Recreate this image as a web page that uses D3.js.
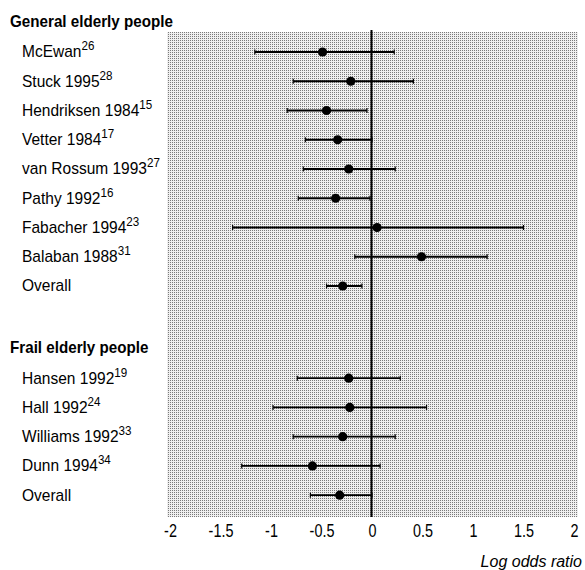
<!DOCTYPE html>
<html>
<head>
<meta charset="utf-8">
<script src="https://cdn.jsdelivr.net/npm/d3@7"></script>
<style>
  html, body { margin: 0; padding: 0; background: #fff; }
  svg { display: block; }
  text { font-family: "Liberation Sans", Arial, sans-serif; fill: #000; }
</style>
</head>
<body>
<svg id="chart" width="585" height="570"></svg>
<script>
// ---- Data ----
const groupNames = ["General elderly people", "Frail elderly people"];

const generalStudies = ["McEwan", "Stuck 1995", "Hendriksen 1984", "Vetter 1984", "van Rossum 1993", "Pathy 1992", "Fabacher 1994", "Balaban 1988", "Overall"];
const generalRefs    = ["26", "28", "15", "17", "27", "16", "23", "31", ""];
const generalEst     = [-0.49, -0.21, -0.45, -0.34, -0.23, -0.36, 0.05, 0.49, -0.29];
const generalLo      = [-1.16, -0.78, -0.84, -0.66, -0.68, -0.73, -1.38, -0.17, -0.45];
const generalHi      = [0.22, 0.41, -0.05, 0.00, 0.23, -0.02, 1.50, 1.14, -0.10];

const frailStudies = ["Hansen 1992", "Hall 1992", "Williams 1992", "Dunn 1994", "Overall"];
const frailRefs    = ["19", "24", "33", "34", ""];
const frailEst     = [-0.23, -0.22, -0.29, -0.59, -0.32];
const frailLo      = [-0.74, -0.98, -0.78, -1.29, -0.61];
const frailHi      = [0.28, 0.54, 0.23, 0.08, 0.00];

const xTicks = [-2, -1.5, -1, -0.5, 0, 0.5, 1, 1.5, 2];
const xTickLabels = ["-2", "-1.5", "-1", "-0.5", "0", "0.5", "1", "1.5", "2"];
const xTitle = "Log odds ratio";

// ---- Layout ----
const svg = d3.select("#chart");
const plot = { left: 167, right: 578, top: 32, bottom: 517 };

const x = d3.scaleLinear().domain([-2, 2]).range([170, 574]);
// rows positioned by index; frail group begins after a gap
const frailStart = 11.15;
const y = d3.scaleLinear().domain([0, 1]).range([52, 81.25]);

const groups = [
  { name: groupNames[0], start: 0, studies: generalStudies, refs: generalRefs, est: generalEst, lo: generalLo, hi: generalHi },
  { name: groupNames[1], start: frailStart, studies: frailStudies, refs: frailRefs, est: frailEst, lo: frailLo, hi: frailHi }
];

const rows = [];
groups.forEach(g => {
  g.studies.forEach((s, i) => {
    rows.push({ label: s, ref: g.refs[i], est: g.est[i], lo: g.lo[i], hi: g.hi[i], idx: g.start + i });
  });
});

// ---- Background halftone ----
const defs = svg.append("defs");
const pat = defs.append("pattern")
  .attr("id", "dots").attr("patternUnits", "userSpaceOnUse")
  .attr("width", 2).attr("height", 2);
pat.append("rect").attr("width", 2).attr("height", 2).attr("fill", "#efefef");
pat.append("rect").attr("width", 1).attr("height", 1).attr("fill", "#7a7a7a");

svg.append("rect")
  .attr("x", plot.left).attr("y", plot.top)
  .attr("width", plot.right - plot.left).attr("height", plot.bottom - plot.top)
  .attr("fill", "url(#dots)");

// ---- Zero line ----
svg.append("line")
  .attr("x1", x(0) - 0.5).attr("x2", x(0) - 0.5)
  .attr("y1", plot.top - 2).attr("y2", plot.bottom)
  .attr("stroke", "#000").attr("stroke-width", 2);

// ---- Error bars ----
const bars = svg.append("g").selectAll("g").data(rows).join("g");
bars.append("line")
  .attr("x1", d => x(d.lo)).attr("x2", d => x(d.hi))
  .attr("y1", d => y(d.idx)).attr("y2", d => y(d.idx))
  .attr("stroke", "#000").attr("stroke-width", 1.8);
bars.append("line")
  .attr("x1", d => x(d.lo)).attr("x2", d => x(d.lo))
  .attr("y1", d => y(d.idx) - 2.5).attr("y2", d => y(d.idx) + 2.5)
  .attr("stroke", "#000").attr("stroke-width", 1.2);
bars.append("line")
  .attr("x1", d => x(d.hi)).attr("x2", d => x(d.hi))
  .attr("y1", d => y(d.idx) - 2.5).attr("y2", d => y(d.idx) + 2.5)
  .attr("stroke", "#000").attr("stroke-width", 1.2);
bars.append("circle")
  .attr("cx", d => x(d.est)).attr("cy", d => y(d.idx))
  .attr("r", 4.6).attr("fill", "#000");

// ---- Row labels ----
const labelG = svg.append("g").attr("transform", "translate(22,0) scale(0.97,1)");
const labels = labelG.selectAll("text").data(rows).join("text")
  .attr("x", 0).attr("y", d => y(d.idx) + 5.5)
  .attr("font-size", 16);
labels.append("tspan").text(d => d.label);
labels.append("tspan")
  .attr("dy", -7).attr("font-size", 12)
  .text(d => d.ref);

// ---- Group headers ----
svg.append("g").attr("transform", "translate(10,0) scale(0.95,1)")
  .selectAll("text").data(groups).join("text")
  .attr("x", 0).attr("y", g => y(g.start - 1.07) + 6)
  .attr("font-size", 16).attr("font-weight", "bold")
  .text(g => g.name);

// ---- X axis ----
const axis = d3.axisBottom(x).tickValues(xTicks)
  .tickFormat((d, i) => xTickLabels[i]).tickSize(0).tickPadding(0);
const ax = svg.append("g").attr("transform", `translate(0, 524)`).call(axis);
ax.select(".domain").remove();
ax.selectAll("text")
  .attr("dy", "0.71em").attr("y", 0)
  .attr("transform", "scale(0.8,1)")
  .attr("font-size", 18)
  .attr("font-family", "'Liberation Sans', Arial, sans-serif")
  .attr("fill", "#000");

svg.append("text")
  .attr("x", 582).attr("y", 567).attr("text-anchor", "end")
  .attr("font-size", 16).attr("font-style", "italic")
  .text(xTitle);
</script>
</body>
</html>
